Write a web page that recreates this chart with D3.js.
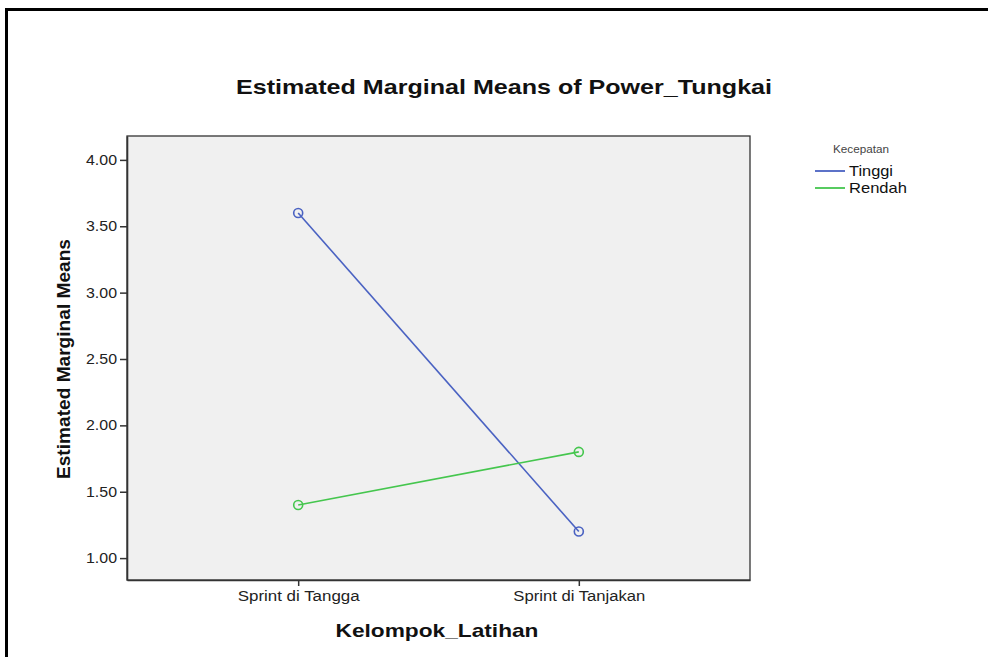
<!DOCTYPE html>
<html>
<head>
<meta charset="utf-8">
<script src="https://cdn.jsdelivr.net/npm/d3@7"></script>
<style>
  body { margin: 0; background: #fff; }
  text { font-family: Arial, "Liberation Sans", sans-serif; }
</style>
</head>
<body>
<div id="app"></div>
<script>
let categories = ['Sprint di Tangga', 'Sprint di Tanjakan'];
let seriesNames = ['Tinggi', 'Rendah'];
let tinggi = [3.60, 1.20];
let rendah = [1.40, 1.80];
let yTicks = [1.00, 1.50, 2.00, 2.50, 3.00, 3.50, 4.00];
let colors = ['#4a62c2', '#45c64e'];

let W = 988, H = 657;
let margin = { top: 136, left: 127, bottom: 77, right: 238 };
let w = W - margin.left - margin.right; let h = H - margin.top - margin.bottom;

let svg = d3.select('#app').append('svg')
  .attr('width', W)
  .attr('height', H);

// outer frame (cut off on the right and bottom)
svg.append('rect')
  .attr('x', 6.5).attr('y', 9.5)
  .attr('width', W + 20).attr('height', H + 20)
  .attr('fill', 'none')
  .attr('stroke', '#000')
  .attr('stroke-width', 3);

let g = svg.append('g')
  .attr('transform', 'translate(' + margin.left + ', ' + margin.top + ')');

g.append('rect')
  .attr('width', w).attr('height', h)
  .attr('fill', '#f0f0f0')
  .attr('stroke', '#333')
  .attr('stroke-width', 1.3);

let yScale = d3.scaleLinear()
  .domain([0.835, 4.18])
  .range([h, 0]);

let xScale = d3.scalePoint()
  .domain(categories)
  .range([0, w])
  .padding(0.61);

let yAxis = d3.axisLeft(yScale)
  .tickValues(yTicks)
  .tickFormat(d3.format('.2f'))
  .tickSize(7)
  .tickSizeOuter(0)
  .tickPadding(3);

let xAxis = d3.axisBottom(xScale)
  .tickSize(6)
  .tickSizeOuter(0)
  .tickPadding(5);

let yg = g.append('g').attr('class', 'y axis').call(yAxis);
let xg = g.append('g').attr('class', 'x axis')
  .attr('transform', 'translate(0, ' + h + ')').call(xAxis);

[yg, xg].forEach(ax => {
  ax.select('.domain').attr('stroke', '#333').attr('stroke-width', 1.6);
  ax.selectAll('.tick line').attr('stroke', '#333').attr('stroke-width', 1.5);
  ax.selectAll('.tick text').attr('fill', '#222').style('font-size', '14px');
});
yg.selectAll('.tick text').attr('textLength', 31).attr('lengthAdjust', 'spacingAndGlyphs');
xg.selectAll('.tick text')
  .attr('textLength', (d, i) => i === 0 ? 122 : 132)
  .attr('lengthAdjust', 'spacingAndGlyphs');

let series = [tinggi, rendah];
let ln = d3.line()
  .x((d, i) => xScale(categories[i]))
  .y(d => yScale(d));

series.forEach((s, k) => {
  g.append('path')
    .attr('fill', 'none')
    .attr('stroke', colors[k])
    .attr('stroke-width', 1.6)
    .attr('d', ln(s));
  g.selectAll('.pt' + k)
    .data(s)
    .enter().append('circle')
    .attr('cx', (d, i) => xScale(categories[i]))
    .attr('cy', d => yScale(d))
    .attr('r', 4.5)
    .attr('fill', 'none')
    .attr('stroke', colors[k])
    .attr('stroke-width', 1.6);
});

// title
svg.append('text')
  .attr('x', 504).attr('y', 94)
  .attr('text-anchor', 'middle')
  .style('font-size', '21px')
  .style('font-weight', 'bold')
  .attr('textLength', 536)
  .attr('lengthAdjust', 'spacingAndGlyphs')
  .attr('fill', '#111')
  .text('Estimated Marginal Means of Power_Tungkai');

// axis titles
svg.append('text')
  .attr('transform', 'translate(70, 359) rotate(-90)')
  .attr('text-anchor', 'middle')
  .style('font-size', '18px')
  .style('font-weight', 'bold')
  .attr('textLength', 240)
  .attr('lengthAdjust', 'spacingAndGlyphs')
  .attr('fill', '#111')
  .text('Estimated Marginal Means');

svg.append('text')
  .attr('x', 437).attr('y', 637)
  .attr('text-anchor', 'middle')
  .style('font-size', '19px')
  .style('font-weight', 'bold')
  .attr('textLength', 203)
  .attr('lengthAdjust', 'spacingAndGlyphs')
  .attr('fill', '#111')
  .text('Kelompok_Latihan');

// legend
let lg = svg.append('g').attr('transform', 'translate(815, 0)');
lg.append('text')
  .attr('x', 18).attr('y', 153)
  .style('font-size', '10px')
  .attr('textLength', 56)
  .attr('lengthAdjust', 'spacingAndGlyphs')
  .attr('fill', '#444')
  .text('Kecepatan');
seriesNames.forEach((n, k) => {
  let y = 171 + k * 17;
  lg.append('line')
    .attr('x1', 0).attr('x2', 30)
    .attr('y1', y).attr('y2', y)
    .attr('stroke', colors[k])
    .attr('stroke-width', 1.8);
  lg.append('text')
    .attr('x', 34).attr('y', y + 5)
    .style('font-size', '15px')
    .attr('textLength', k === 0 ? 44 : 58)
    .attr('lengthAdjust', 'spacingAndGlyphs')
    .attr('fill', '#111')
    .text(n);
});
</script>
</body>
</html>
